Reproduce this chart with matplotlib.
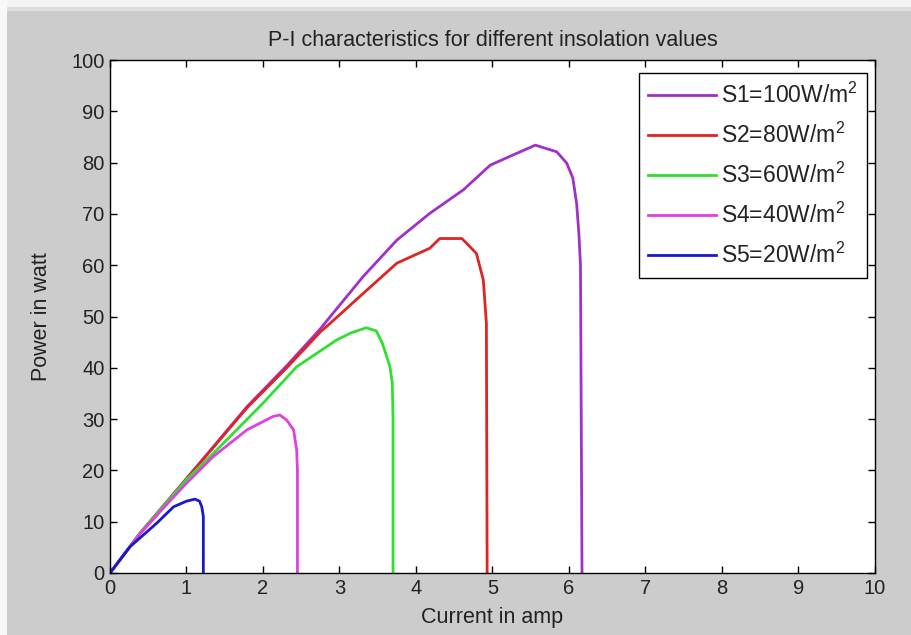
import matplotlib
matplotlib.use("Agg")
import matplotlib.pyplot as plt
from matplotlib.patches import Rectangle

# ---- data ----
s1_current = [0, 0.39, 1.13, 1.79, 2.31, 2.75, 2.88, 3.31, 3.75, 4.18, 4.62, 4.97, 5.27, 5.56, 5.84, 5.97, 6.05, 6.10, 6.13, 6.15, 6.16, 6.17]
s1_power = [0, 7.7, 20.7, 32.4, 40.4, 47.6, 50.0, 57.8, 64.9, 70.1, 74.7, 79.5, 81.5, 83.4, 82.1, 79.9, 77, 72, 66, 60, 30, 0]

s2_current = [0, 0.39, 1.13, 1.79, 2.31, 2.75, 2.88, 3.31, 3.75, 4.18, 4.31, 4.60, 4.79, 4.88, 4.92, 4.93]
s2_power = [0, 7.7, 20.6, 32.2, 40.0, 47.0, 48.7, 54.5, 60.4, 63.3, 65.2, 65.2, 62.3, 57.1, 48.7, 0]

s3_current = [0, 0.39, 1.0, 1.35, 2.0, 2.44, 2.96, 3.15, 3.35, 3.48, 3.56, 3.66, 3.69, 3.70, 3.70]
s3_power = [0, 7.7, 18.2, 23.3, 33.1, 40.2, 45.4, 46.8, 47.8, 47.2, 44.8, 40.2, 37, 30, 0]

s4_current = [0, 0.39, 0.78, 1.0, 1.35, 1.79, 2.13, 2.22, 2.31, 2.40, 2.44, 2.45, 2.45]
s4_power = [0, 7.6, 14.0, 17.5, 22.7, 27.9, 30.5, 30.8, 29.8, 27.9, 24, 20, 0]

s5_current = [0, 0.26, 0.61, 0.83, 1.0, 1.11, 1.17, 1.20, 1.22, 1.22]
s5_power = [0, 5.1, 9.7, 12.9, 14.0, 14.4, 14.0, 12.9, 11, 0]

labels = ["S1=100W/m$^2$", "S2=80W/m$^2$", "S3=60W/m$^2$", "S4=40W/m$^2$", "S5=20W/m$^2$"]
colors = ["#a030c8", "#e02424", "#30e030", "#e040e0", "#1818d0"]
x_ticks = list(range(0, 11))
y_ticks = list(range(0, 101, 10))

# ---- fonts ----
fam = "Liberation Sans"
plt.rcParams["font.family"] = [fam, "DejaVu Sans"]
plt.rcParams["mathtext.fontset"] = "custom"
plt.rcParams["mathtext.rm"] = fam
plt.rcParams["mathtext.default"] = "regular"

fs_tick = 14.5
fs_lab = 15.5
fs_leg = 16.5
txt = "#222222"

fig = plt.figure(figsize=(9.12, 6.35), dpi=100, facecolor="#cccccc")
# light window strips
fig.patches.append(Rectangle((0, 1 - 7 / 635), 1, 7 / 635, transform=fig.transFigure,
                             facecolor="#f4f4f4", edgecolor="none", zorder=0))
fig.patches.append(Rectangle((0, 1 - 11 / 635), 1, 4 / 635, transform=fig.transFigure,
                             facecolor="#dedede", edgecolor="none", zorder=0))
fig.patches.append(Rectangle((0, 0), 7 / 912, 1, transform=fig.transFigure,
                             facecolor="#f8f8f8", edgecolor="none", zorder=0))

ax = fig.add_axes([110 / 912, 62 / 635, 765 / 912, 513 / 635])
ax.set_facecolor("white")

series = [(s1_current, s1_power), (s2_current, s2_power), (s3_current, s3_power),
          (s4_current, s4_power), (s5_current, s5_power)]
for (cur, pw), lab, col in zip(series, labels, colors):
    ax.plot(cur, pw, color=col, lw=2.0, label=lab, solid_joinstyle="round")

ax.set_xlim(0, 10)
ax.set_ylim(0, 100)
ax.set_xticks(x_ticks)
ax.set_yticks(y_ticks)
ax.tick_params(direction="in", length=5, width=1, top=True, right=True,
               labelsize=fs_tick, colors="black", labelcolor=txt, pad=4)
for sp in ax.spines.values():
    sp.set_linewidth(1.0)
    sp.set_color("black")

ax.set_xlabel("Current in amp", fontsize=fs_lab, color=txt, labelpad=7)
ax.set_ylabel("Power in watt", fontsize=fs_lab, color=txt, labelpad=14)
ax.set_title("P-I characteristics for different insolation values", fontsize=fs_lab,
             color=txt, pad=10)

leg = ax.legend(loc="upper right", bbox_to_anchor=(0.9895, 0.9747), borderaxespad=0,
                fontsize=fs_leg, frameon=True, fancybox=False, edgecolor="black",
                framealpha=1, handlelength=2.95, labelspacing=0.65, handletextpad=0.2,
                borderpad=0.42)
leg.get_frame().set_linewidth(1.0)
for t in leg.get_texts():
    t.set_color(txt)

fig.savefig("out.png", dpi=100, facecolor=fig.get_facecolor())
